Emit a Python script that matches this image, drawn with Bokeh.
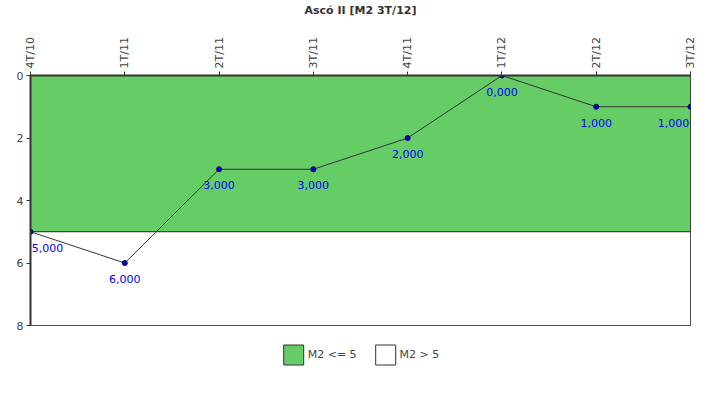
from bokeh.plotting import figure
from bokeh.models import (Range1d, FixedTicker, LinearAxis, ColumnDataSource,
                          Label, Legend, LegendItem)
from bokeh.embed import file_html
from bokeh.resources import INLINE

categories = ["4T/10", "1T/11", "2T/11", "3T/11", "4T/11", "1T/12", "2T/12", "3T/12"]
values = [5.0, 6.0, 3.0, 3.0, 2.0, 0.0, 1.0, 1.0]
threshold = 5.0
y_max = 8.0
y_ticks = [0, 2, 4, 6, 8]
band_labels = ["M2 <= 5", "M2 > 5"]
title_text = "Ascó II [M2 3T/12]"

FONT = "DejaVu Sans"
xs = list(range(len(categories)))
text_labels = [f"{v:.3f}".replace(".", ",") for v in values]

p = figure(frame_width=660, frame_height=250, output_backend="svg", toolbar_location=None,
           x_range=Range1d(0, len(categories) - 1), y_range=Range1d(y_max, 0),
           x_axis_location=None, y_axis_location=None,
           min_border_left=30, min_border_right=30,
           min_border_top=75, min_border_bottom=75)
p.background_fill_color = "white"
p.border_fill_color = "white"
p.outline_line_color = "#333333"
p.outline_line_width = 1
p.grid.visible = False

# bands
g = p.quad(left=0, right=len(categories) - 1, top=0, bottom=threshold,
           fill_color="#66CC66", line_color="#333333", line_width=1)
w = p.quad(left=0, right=len(categories) - 1, top=threshold, bottom=y_max,
           fill_color="white", line_color="#333333", line_width=1)

# axes
ya = LinearAxis(ticker=FixedTicker(ticks=y_ticks))
ya.axis_line_width = 2
ya.axis_line_color = "#333333"
ya.major_tick_line_color = "#333333"
ya.major_tick_out = 4
ya.major_tick_in = 0
ya.minor_tick_line_color = None
ya.major_label_text_font = FONT
ya.major_label_text_font_size = "11px"
ya.major_label_text_color = "#444444"
ya.major_label_standoff = 3
p.add_layout(ya, "left")

xa = LinearAxis(ticker=FixedTicker(ticks=xs),
                major_label_overrides={i: c for i, c in enumerate(categories)})
xa.axis_line_width = 2
xa.axis_line_color = "#333333"
xa.major_tick_line_color = "#333333"
xa.major_tick_out = 4
xa.major_tick_in = 0
xa.minor_tick_line_color = None
xa.major_label_orientation = "vertical"
xa.major_label_text_font = FONT
xa.major_label_text_font_size = "11px"
xa.major_label_text_color = "#444444"
xa.major_label_standoff = 3
# chart title, drawn as the top axis label
xa.axis_label = title_text
xa.axis_label_text_font = FONT
xa.axis_label_text_font_size = "11px"
xa.axis_label_text_font_style = "bold"
xa.axis_label_text_color = "#333333"
xa.axis_label_standoff = 17
p.add_layout(xa, "above")

src = ColumnDataSource(dict(x=xs, y=values, t=text_labels))
p.line("x", "y", source=src, line_color="#333333", line_width=1)
p.scatter("x", "y", source=src, size=5, fill_color="#0000CC", line_color="#000066")

last = len(xs) - 1
for i, (xv, yv, tv) in enumerate(zip(xs, values, text_labels)):
    xo = 17 if i == 0 else (-17 if i == last else 0)
    p.add_layout(Label(x=xv, y=yv, text=tv, text_align="center",
                       text_baseline="middle", x_offset=xo, y_offset=-16,
                       text_color="#0000FF", text_font_size="11px", text_font=FONT))

legend = Legend(items=[LegendItem(label=band_labels[0], renderers=[g]),
                       LegendItem(label=band_labels[1], renderers=[w])],
                orientation="horizontal", location="top_center",
                glyph_width=25, glyph_height=25, label_standoff=2, spacing=16,
                label_text_font=FONT, label_text_font_size="11px",
                label_text_color="#444444", border_line_alpha=0,
                background_fill_alpha=0, padding=8, margin=9)
p.add_layout(legend, "below")

open("out.html", "w").write(file_html(p, INLINE))
